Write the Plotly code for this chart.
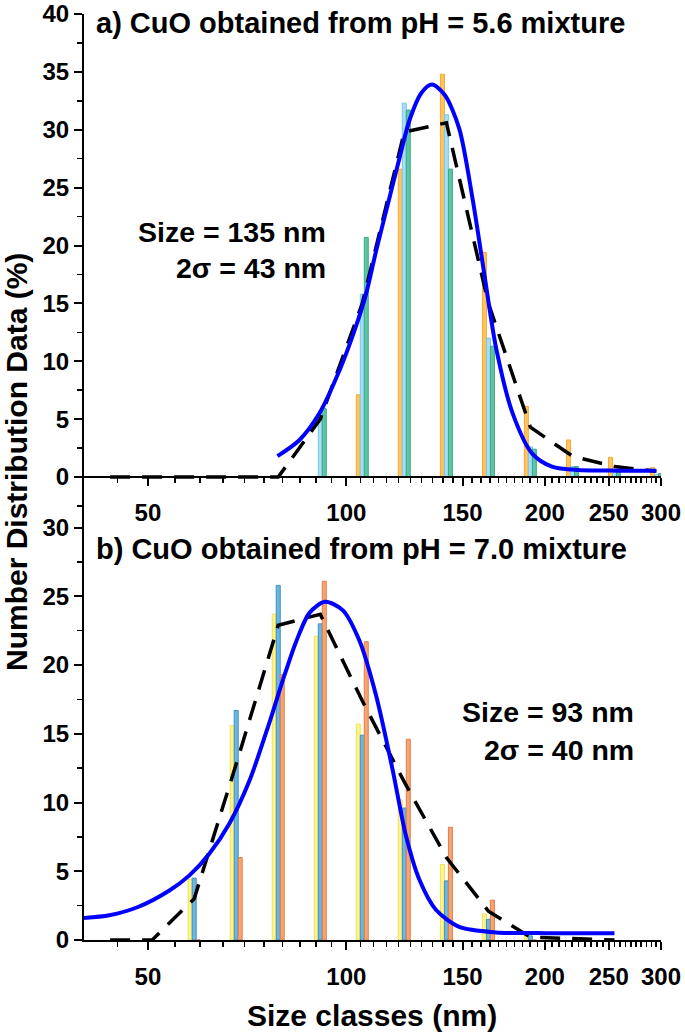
import numpy as np
import plotly.graph_objects as go

# ---------------- data ----------------
classes_a = [91.28, 105.7, 122.4, 141.8, 164.2, 190.1, 220.2, 255.0, 295.3]
a_orange = [0.0, 7.1, 26.6, 34.8, 19.4, 6.1, 3.2, 1.7, 0.8]
a_blue = [5.5, 15.8, 32.3, 31.3, 12.0, 2.6, 0.9, 0.4, 0.2]
a_green = [5.9, 20.7, 31.7, 26.6, 11.3, 2.4, 0.9, 0.4, 0.3]

avg_a_x = [43.82, 50.75, 58.77, 68.06, 78.82, 91.28, 105.7, 122.4, 141.8, 164.2, 190.1, 220.2, 255.0, 295.3]
avg_a_y = [0, 0, 0, 0, 0, 5.0, 15.0, 29.8, 30.6, 15.0, 4.3, 1.8, 0.9, 0.5]

fit_a_x = [78.6, 84.9, 91.0, 97.6, 102.8, 107.1, 110.9, 115.5, 120.3, 124.6, 130.0, 134.8,
           141.0, 148.3, 155.4, 161.9, 168.6, 178.7, 191.5, 205.0, 225.0, 260.0, 295.0]
fit_a_y = [1.8, 3.2, 5.5, 9.2, 12.6, 15.8, 19.5, 23.5, 27.5, 30.8, 33.2, 33.9,
           33.0, 30.1, 24.0, 17.5, 11.2, 5.5, 2.0, 0.9, 0.6, 0.55, 0.55]

classes_b = [58.77, 68.06, 78.82, 91.28, 105.7, 122.4, 141.8, 164.2, 190.1]
b_yellow = [4.4, 15.6, 23.7, 22.1, 15.7, 10.2, 5.5, 1.9, 0.3]
b_blue = [4.5, 16.7, 25.8, 23.0, 14.9, 9.6, 4.3, 1.5, 0.3]
b_orange = [0.0, 6.0, 19.3, 26.1, 21.7, 14.6, 8.2, 2.9, 0.0]

avg_b_x = [43.82, 50.75, 58.77, 68.06, 78.82, 91.28, 105.7, 122.4, 141.8, 164.2, 190.1, 220.2, 255.0]
avg_b_y = [0, 0, 3.0, 12.8, 22.9, 23.7, 17.4, 11.5, 6.0, 2.1, 0.2, 0.1, 0.0]

fit_b_x = [40.0, 43.7, 48.3, 53.9, 57.8, 62.0, 66.5, 71.3, 76.4, 80.1, 83.9, 87.9, 92.8,
           98.7, 104.6, 110.9, 117.5, 123.1, 129.0, 136.7, 148.3, 168.6, 200.0, 255.0]
fit_b_y = [1.6, 1.8, 2.4, 3.6, 4.7, 6.3, 8.5, 11.6, 15.8, 18.9, 21.7, 23.8, 24.6,
           24.0, 21.8, 17.8, 12.4, 7.6, 4.4, 2.2, 0.95, 0.55, 0.5, 0.5]

x_tick_vals = [50, 100, 150, 200, 250, 300]
x_tick_text = ["50", "100", "150", "200", "250", "300"]
x_minor_vals = [v for v in range(45, 300, 5) if v not in x_tick_vals]
ya_ticks = [0, 5, 10, 15, 20, 25, 30, 35, 40]
yb_ticks = [0, 5, 10, 15, 20, 25, 30]

# ---------------- geometry ----------------
W, H = 685, 1036
FONT = "Liberation Sans, Arial, sans-serif"
BAR_PX = 4.0
PX_PER_DECADE = 660.0
lw = BAR_PX / PX_PER_DECADE


def bar_geom(xs, slot):
    # slot -1, 0, +1 : left, centre, right bar of a cluster (log axis)
    xs = np.asarray(xs, dtype=float)
    left = xs * 10 ** ((slot - 0.5) * lw)
    right = xs * 10 ** ((slot + 0.5) * lw)
    return (left - xs).tolist(), (right - left).tolist()


def px(x):
    return x / W


def py(y):
    return 1 - y / H


fig = go.Figure()


def add_bars(xs, ys, slot, fill, edge, xa, ya):
    off, wid = bar_geom(xs, slot)
    fig.add_trace(go.Bar(x=xs, y=ys, offset=off, width=wid,
                         marker=dict(color=fill, line=dict(color=edge, width=1)),
                         xaxis=xa, yaxis=ya, showlegend=False))


add_bars(classes_a, a_orange, -1, "#FFC55C", "#F2A93B", "x", "y")
add_bars(classes_a, a_blue, 0, "#A9DDF5", "#78C6EA", "x", "y")
add_bars(classes_a, a_green, 1, "#5CC6A5", "#3BA886", "x", "y")

add_bars(classes_b, b_yellow, -1, "#FFF48A", "#F3DF55", "x2", "y2")
add_bars(classes_b, b_blue, 0, "#6DB6E0", "#3C8FC6", "x2", "y2")
add_bars(classes_b, b_orange, 1, "#F5A574", "#E27D45", "x2", "y2")

fig.add_trace(go.Scatter(x=avg_a_x, y=avg_a_y, mode="lines",
                         line=dict(color="black", width=3.5, dash="20px,12px"),
                         xaxis="x", yaxis="y", showlegend=False))
fig.add_trace(go.Scatter(x=fit_a_x, y=fit_a_y, mode="lines",
                         line=dict(color="#0000FF", width=4, shape="spline", smoothing=0.8),
                         xaxis="x", yaxis="y", showlegend=False))
fig.add_trace(go.Scatter(x=avg_b_x, y=avg_b_y, mode="lines",
                         line=dict(color="black", width=3.5, dash="20px,12px"),
                         xaxis="x2", yaxis="y2", showlegend=False))
fig.add_trace(go.Scatter(x=fit_b_x, y=fit_b_y, mode="lines",
                         line=dict(color="#0000FF", width=4, shape="spline", smoothing=0.8),
                         xaxis="x2", yaxis="y2", showlegend=False))

# top panel: 40 at y=14px, 0 at y=477px; y axis continues down to 518px
TOP_PX, ZERO_PX, SPLIT_PX, BOTTOM_PX = 14, 477, 518, 940
ppu_a = (ZERO_PX - TOP_PX) / 40.0
ya_range = [-(SPLIT_PX - ZERO_PX) / ppu_a, 40]
x_dom = [px(84), px(661)]
ya_dom = [py(SPLIT_PX), py(TOP_PX)]
yb_dom = [py(BOTTOM_PX), py(SPLIT_PX)]
yb_range = [0, 30.7]
# top x axis sits on y = 0
zero_pos = py(ZERO_PX)

tickfont = dict(family=FONT, size=24, color="black", weight="bold")
common_x = dict(type="log", range=[np.log10(40), np.log10(300)], domain=x_dom,
                tickmode="array", tickvals=x_tick_vals, ticktext=x_tick_text,
                ticks="outside", ticklen=8, tickwidth=2, tickcolor="black",
                showline=True, linecolor="black", linewidth=2, showgrid=False,
                zeroline=False, tickfont=tickfont, ticklabelstandoff=6, automargin=False,
                ticklabeloverflow="allow",
                minor=dict(tickmode="array", tickvals=x_minor_vals, ticks="outside",
                           ticklen=5, tickwidth=1.5, tickcolor="black", showgrid=False))
common_y = dict(ticks="outside", ticklen=8, tickwidth=2, tickcolor="black",
                showline=True, linecolor="black", linewidth=2, showgrid=False,
                zeroline=False, tickfont=tickfont, tickmode="array", automargin=False,
                ticklabeloverflow="allow",
                minor=dict(ticks="outside", ticklen=5, tickwidth=1.5, tickcolor="black",
                           dtick=2.5, tick0=0, showgrid=False))

fig.update_layout(
    width=W, height=H, margin=dict(l=0, r=0, t=0, b=0, autoexpand=False),
    paper_bgcolor="white", plot_bgcolor="white", barmode="overlay", bargap=0,
    xaxis=dict(common_x, anchor="free", position=zero_pos),
    yaxis=dict(common_y, domain=ya_dom, range=ya_range, anchor="x", tickvals=ya_ticks),
    xaxis2=dict(common_x, anchor="y2"),
    yaxis2=dict(common_y, domain=yb_dom, range=yb_range, anchor="x2", tickvals=yb_ticks),
    showlegend=False,
)


def ann(text, x, y, xanchor, size=28, angle=0):
    fig.add_annotation(text="<b>" + text + "</b>", x=px(x), y=py(y), xref="paper", yref="paper",
                       xanchor=xanchor, yanchor="middle", showarrow=False, textangle=angle,
                       font=dict(family=FONT, size=size, color="black"))


ann("a) CuO obtained from pH = 5.6 mixture", 94, 23, "left", 29)
ann("Size = 135 nm", 328, 232, "right", 28.5)
ann("2σ = 43 nm", 328, 268, "right", 28.5)
ann("b) CuO obtained from pH = 7.0 mixture", 94, 549, "left", 29)
ann("Size = 93 nm", 636, 712, "right", 28.5)
ann("2σ = 40 nm", 636, 750, "right", 28.5)
ann("Number Distribution Data (%)", 16, 462, "center", 30, -90)
ann("Size classes (nm)", 372, 1015, "center", 30)

fig.write_html("out.html", config={"displayModeBar": False, "staticPlot": True},
               post_script="document.body.style.margin='0';document.body.style.overflow='hidden';")
